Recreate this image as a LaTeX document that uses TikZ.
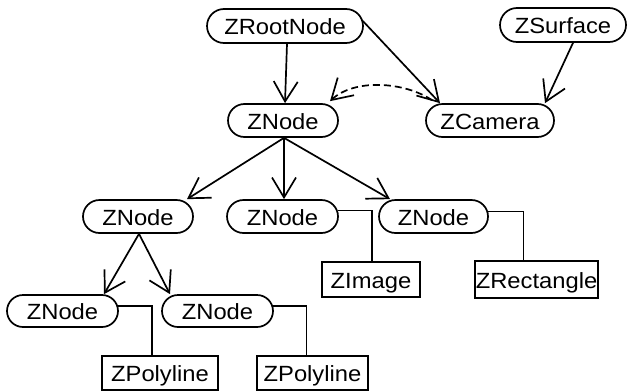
\documentclass[tikz,border=0pt]{standalone}
\usepackage{fontspec}
\setmainfont{Liberation Sans}[FakeStretch=1.08]
\usetikzlibrary{arrows.meta,shapes.misc}
\begin{document}
\begin{tikzpicture}[x=1pt,y=-1pt,
  every node/.style={font=\fontsize{22}{26}\selectfont, inner sep=0pt, text height=18pt, text depth=1pt},
  pill/.style={draw, line width=1.7pt, rounded rectangle, rounded rectangle arc length=180, minimum height=33pt},
  box/.style={draw, line width=1.7pt, minimum height=35pt},
  arr/.style={line width=1.7pt, -{Straight Barb[length=20pt,width=24pt,line width=1.7pt]}},
  link/.style={line width=1.7pt}]
\useasboundingbox (0,0) rectangle (628,391);
\node[pill, minimum width=156pt, minimum height=34pt] (root) at (285,26) {ZRootNode};
\node[pill, minimum width=126pt, minimum height=34pt] (surf) at (563,25) {ZSurface};
\node[pill, minimum width=110pt] (top) at (283,120.5) {ZNode};
\node[pill, minimum width=128pt] (cam) at (490,120.5) {ZCamera};
\node[pill, minimum width=110pt] (n1) at (138,216.5) {ZNode};
\node[pill, minimum width=111pt] (n2) at (282.5,216.5) {ZNode};
\node[pill, minimum width=109pt] (n3) at (433.5,216.5) {ZNode};
\node[box, minimum width=98pt] (img) at (371,279.5) {ZImage};
\node[box, minimum width=123pt, minimum height=37pt] (rect) at (536.5,279.5) {ZRectangle};
\node[pill, minimum width=111pt, minimum height=32pt] (n4) at (62.5,311) {ZNode};
\node[pill, minimum width=111pt, minimum height=32pt] (n5) at (217.5,311) {ZNode};
\node[box, minimum width=116pt, minimum height=34pt] (p1) at (160,373) {ZPolyline};
\node[box, minimum width=111pt, minimum height=34pt] (p2) at (312.5,373) {ZPolyline};
% arrows
\draw[arr] ([xshift=2pt]root.south) -- ([xshift=2pt]top.north);
\draw[arr] ([shift={(-1pt,5pt)}]root.east) -- ([xshift=-50pt]cam.north);
\draw[arr] ([xshift=10pt]surf.south) -- ([xshift=55pt]cam.north);
\draw[arr, dash pattern=on 7pt off 4pt] ([shift={(-58pt,3pt)}]cam.north) .. controls (405,82) and (355,78) .. ([shift={(47pt,2pt)}]top.north);
\draw[arr] ([xshift=1pt]top.south) -- ([xshift=49pt]n1.north);
\draw[arr] ([xshift=1pt]top.south) -- ([xshift=1.5pt]n2.north);
\draw[arr] ([xshift=1pt]top.south) -- ([xshift=-43.5pt]n3.north);
\draw[arr] ([xshift=1pt]n1.south) -- ([xshift=41.5pt]n4.north);
\draw[arr] ([xshift=1pt]n1.south) -- ([xshift=-47.5pt]n5.north);
% links
\draw[link] ([shift={(-1pt,6pt)}]n2.east) -| ([xshift=1pt]img.north);
\draw[link] ([shift={(-1pt,5pt)}]n3.east) -| ([xshift=-13pt]rect.north);
\draw[link] ([shift={(-1pt,5pt)}]n4.east) -| ([xshift=-8pt]p1.north);
\draw[link] ([shift={(-1pt,5pt)}]n5.east) -| ([xshift=-6pt]p2.north);
\end{tikzpicture}
\end{document}
